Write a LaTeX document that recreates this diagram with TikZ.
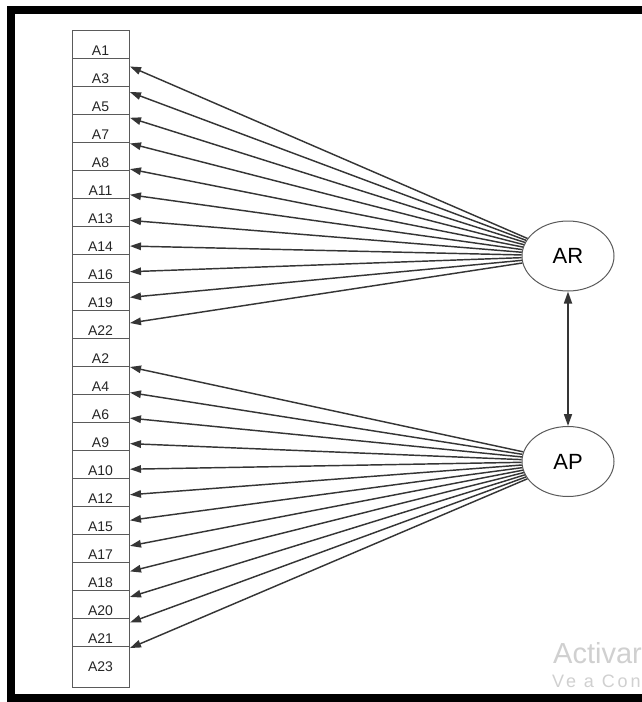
\documentclass[tikz,border=0pt]{standalone}
\usepackage{fontspec}
\setmainfont{Liberation Sans}
\usetikzlibrary{shapes.geometric,arrows.meta}
\definecolor{boxline}{HTML}{5A5A5A}
\definecolor{arrline}{HTML}{353535}
\definecolor{wmark}{HTML}{D0D0D0}
\tikzset{
  itembox/.style={draw=boxline,line width=1pt,minimum width=57pt,minimum height=28pt,inner sep=0pt},
  itemlbl/.style={inner sep=0pt,font=\fontsize{14}{16}\selectfont,text=black!85},
  latent/.style={ellipse,draw=boxline,line width=1pt,minimum width=92pt,minimum height=70pt,inner sep=0pt,font=\fontsize{22}{26}\selectfont},
  loadarr/.style={draw=arrline,line width=1.45pt,-{Triangle[length=11pt,width=7.5pt]}},
  covarr/.style={draw=arrline,line width=1.7pt,{Triangle[length=12pt,width=8pt]}-{Triangle[length=12pt,width=8pt]}},
  frameband/.style={fill=black,draw=none},
  wm/.style={text=wmark,inner sep=0pt,anchor=base west}
}
\begin{document}
\begin{tikzpicture}[x=1pt,y=-1pt]
\useasboundingbox (0,0) rectangle (642,702);
\fill[white] (0,0) rectangle (642,702);
% frame
\path[frameband] (7,6) rectangle (642,14);
\path[frameband] (7,6) rectangle (15,702);
\path[frameband] (7,694) rectangle (642,702);
% item boxes
\foreach \lab [count=\i from 0] in {A1,A3,A5,A7,A8,A11,A13,A14,A16,A19,A22,A2,A4,A6,A9,A10,A12,A15,A17,A18,A20,A21} {
  \node[itembox] (b\i) at (100.5,{44+28*\i}) {};
  \node[itemlbl] (n\i) at (100.5,{50.5+28*\i}) {\lab};
}
\node[itembox,minimum height=41pt] (b22) at (100.5,666.5) {};
\node[itemlbl] (n22) at (100.5,666.5) {A23};
% latent variables
\node[latent] (AR) at (568,256) {AR};
\node[latent] (AP) at (568,461.5) {AP};
% arrow tips
\foreach \i in {0,...,10} {
  \coordinate (r\i) at (130,{66.5+25.65*\i});
  \draw[loadarr] (AR) -- (r\i);
}
\foreach \i in {0,...,11} {
  \coordinate (p\i) at (130,{367+25.55*\i});
  \draw[loadarr] (AP) -- (p\i);
}
\draw[covarr] (AR) -- (AP);
% watermark
\node[wm,font=\fontsize{29}{32}\selectfont] (wm1) at (553,663) {Activar};
\node[wm,font=\fontsize{18}{20}\selectfont\addfontfeature{LetterSpace=16}] (wm2) at (552,687) {Ve a Con};
\end{tikzpicture}
\end{document}
